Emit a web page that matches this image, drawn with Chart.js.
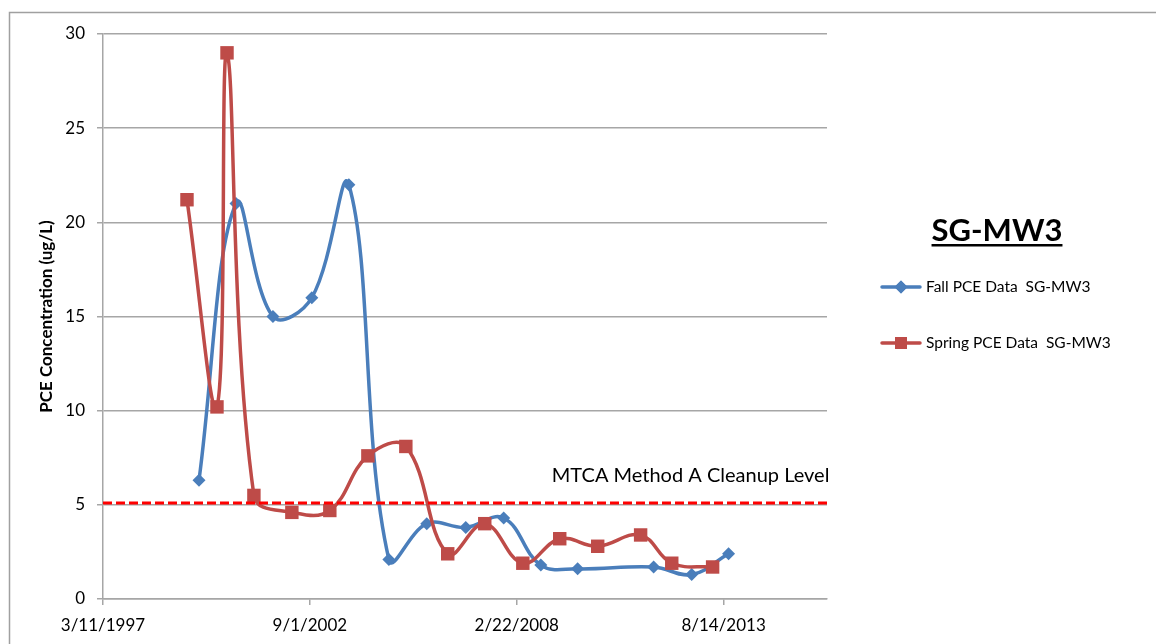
<!DOCTYPE html>
<html>
<head>
<meta charset="utf-8">
<script src="https://cdn.jsdelivr.net/npm/chart.js@4.4.0/dist/chart.umd.min.js"></script>
<style>
  body { margin: 0; background: #fff; }
  #wrap { width: 1156px; height: 644px; position: relative; }
</style>
</head>
<body>
<div id="wrap"><canvas id="myChart"></canvas></div>
<script>
var DAY = 86400000;

// x axis: Excel date axis, ticks every 2000 days from 3/11/1997
var xStart = '1997-03-11';
var xStepDays = 2000;
var xTickCount = 4;
var xSpanDays = 7000;

var fallDates = ['1999-09-25','2000-09-17','2001-09-09','2002-09-20','2003-09-13','2004-10-04','2005-10-05',
                 '2006-10-17','2007-10-19','2008-10-12','2009-10-03','2011-10-08','2012-10-10','2013-10-01'];
var fallPCE = [6.3, 21, 15, 16, 22, 2.1, 4.0, 3.8, 4.3, 1.8, 1.6, 1.7, 1.3, 2.4];

var springDates = ['1999-06-01','2000-03-17','2000-06-22','2001-03-09','2002-03-11','2003-03-13','2004-03-15',
                   '2005-03-17','2006-04-26','2007-04-19','2008-04-21','2009-04-13','2010-04-15','2011-06-04',
                   '2012-03-31','2013-04-30'];
var springPCE = [21.2, 10.2, 29, 5.5, 4.6, 4.7, 7.6, 8.1, 2.4, 4.0, 1.9, 3.2, 2.8, 3.4, 1.9, 1.7];

var cleanupLevel = 5.1;
var cleanupLabel = 'MTCA Method A Cleanup Level';
var cleanupLabelAt = '2009-01-26';
var wellName = 'SG-MW3';
var legendLabels = ['Fall PCE Data  SG-MW3', 'Spring PCE Data  SG-MW3'];

function t(s) {
  var p = s.split('-');
  return Date.UTC(+p[0], +p[1] - 1, +p[2]);
}
function fmt(v) {
  var d = new Date(v);
  return (d.getUTCMonth() + 1) + '/' + d.getUTCDate() + '/' + d.getUTCFullYear();
}
function pts(dates, vals) {
  var out = [];
  for (var i = 0; i < dates.length; i++) out.push({ x: t(dates[i]), y: vals[i] });
  return out;
}

var xMin = t(xStart);
var xMax = xMin + xSpanDays * DAY;

var blue = '#4A7EBB';
var red = '#BE4B48';
var grid = '#A6A6A6';

var framePlugin = {
  id: 'frame',
  beforeDraw: function (chart) {
    var c = chart.ctx;
    c.save();
    c.strokeStyle = '#A0A0A0';
    c.lineWidth = 1.5;
    c.beginPath();
    c.moveTo(9.5, 644);
    c.lineTo(9.5, 12.5);
    c.lineTo(1156, 12.5);
    c.stroke();
    c.restore();
  }
};

var extrasPlugin = {
  id: 'extras',
  afterDraw: function (chart) {
    var c = chart.ctx;
    var ys = chart.scales.y;
    var xs = chart.scales.x;
    c.save();
    // cleanup level label
    c.fillStyle = '#000';
    c.font = '20px Lato';
    c.textBaseline = 'middle';
    c.textAlign = 'left';
    c.fillText(cleanupLabel, xs.getPixelForValue(t(cleanupLabelAt)), ys.getPixelForValue(cleanupLevel) - 27);

    // legend title
    c.font = 'bold 31px Lato';
    c.textAlign = 'center';
    c.textBaseline = 'alphabetic';
    c.fillText(wellName, 997, 241);
    var w = c.measureText(wellName).width;
    c.fillRect(997 - w / 2, 244, w, 2.5);

    // legend entries
    var cols = [blue, red];
    var styles = ['rectRot', 'rect'];
    var rad = [6.5, 8.5];
    var ly = [287, 343];
    for (var i = 0; i < 2; i++) {
      c.strokeStyle = cols[i];
      c.lineWidth = 3.5;
      c.lineCap = 'round';
      c.beginPath();
      c.moveTo(882, ly[i]);
      c.lineTo(920, ly[i]);
      c.stroke();
      c.fillStyle = cols[i];
      Chart.helpers.drawPoint(c, { pointStyle: styles[i], radius: rad[i], borderWidth: 0 }, 901, ly[i]);
      c.fill();
      c.fillStyle = '#000';
      c.font = '15.5px Lato';
      c.textAlign = 'left';
      c.textBaseline = 'middle';
      c.fillText(legendLabels[i], 926, ly[i]);
    }
    c.restore();
  }
};

var ctx = document.getElementById('myChart').getContext('2d');
var myChart = new Chart(ctx, {
  type: 'line',
  data: {
    datasets: [{
      label: 'Cleanup',
      data: [{ x: xMin, y: cleanupLevel }, { x: xMax, y: cleanupLevel }],
      borderColor: '#FF0000',
      borderWidth: 3,
      borderDash: [9, 4],
      pointRadius: 0,
      tension: 0,
      order: -1
    }, {
      label: legendLabels[0],
      data: pts(fallDates, fallPCE),
      borderColor: blue,
      backgroundColor: blue,
      borderWidth: 3.5,
      pointStyle: 'rectRot',
      pointRadius: 6.5,
      pointBorderWidth: 0,
      tension: 0.4,
      order: 2
    }, {
      label: legendLabels[1],
      data: pts(springDates, springPCE),
      borderColor: red,
      backgroundColor: red,
      borderWidth: 3.5,
      pointStyle: 'rect',
      pointRadius: 9.5,
      pointBorderWidth: 0,
      tension: 0.4,
      order: 1
    }]
  },
  options: {
    responsive: true,
    maintainAspectRatio: false,
    animation: false,
    layout: { padding: { left: 30, right: 329, top: 34, bottom: 0 } },
    plugins: {
      legend: { display: false },
      tooltip: { enabled: false }
    },
    scales: {
      x: {
        type: 'linear',
        min: xMin,
        max: xMax,
        afterBuildTicks: function (s) {
          var tk = [];
          for (var i = 0; i < xTickCount; i++) tk.push({ value: xMin + i * xStepDays * DAY });
          s.ticks = tk;
        },
        afterFit: function (s) { s.height = 45; },
        grid: { drawOnChartArea: false, drawTicks: true, tickLength: 6, color: grid, lineWidth: 1.5 },
        border: { color: grid, width: 1.5 },
        ticks: {
          callback: function (v) { return fmt(v); },
          font: { family: 'Lato', size: 17 },
          color: '#000',
          padding: 10,
          maxRotation: 0,
          autoSkip: false
        }
      },
      y: {
        min: 0,
        max: 30,
        afterFit: function (s) { s.width = 73; },
        grid: { color: grid, lineWidth: 1.5, tickLength: 6 },
        border: { color: grid, width: 1.5 },
        ticks: {
          stepSize: 5,
          font: { family: 'Lato', size: 17 },
          color: '#000',
          padding: 12
        },
        title: {
          display: true,
          text: 'PCE Concentration (ug/L)',
          font: { family: 'Lato', size: 17, weight: 'bold' },
          color: '#000',
          padding: { top: 6, bottom: 0 }
        }
      }
    }
  },
  plugins: [framePlugin, extrasPlugin]
});
</script>
</body>
</html>
